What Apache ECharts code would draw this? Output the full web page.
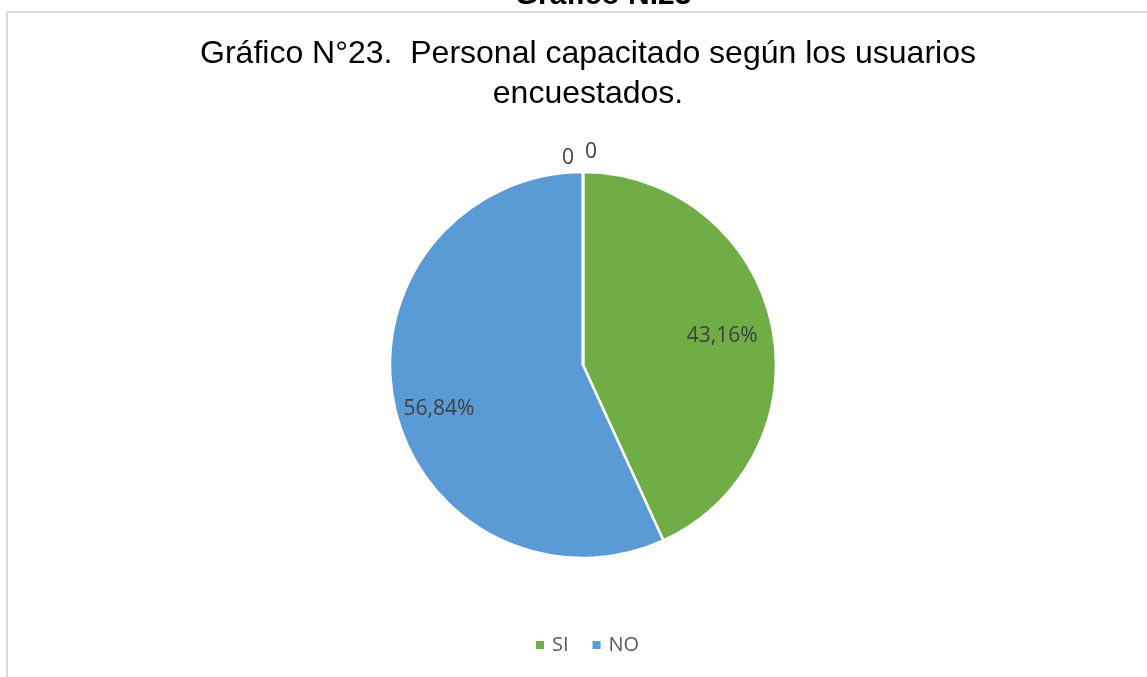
<!DOCTYPE html>
<html>
<head>
<meta charset="utf-8">
<script src="https://cdn.jsdelivr.net/npm/echarts@6/dist/echarts.min.js"></script>
<style>
html,body{margin:0;padding:0;background:#fff;overflow:hidden;}
#frame{position:absolute;left:6px;top:11px;width:1200px;height:700px;border:2px solid #d9d9d9;box-sizing:border-box;}
#chart{position:absolute;left:0;top:0;width:1147px;height:677px;}
</style>
</head>
<body>
<div id="frame"></div>
<div id="chart"></div>
<script>
const categories = ['SI', 'NO', 'Z1', 'Z2'];
const values = [43.16, 56.84, 0, 0];
const legendItems = ['SI', 'NO'];
const colors = ['#70AD47', '#5B9BD5', '#A5A5A5', '#FFC000'];
const headerText = 'Gráfico N.23';
const titleText = 'Gráfico N°23.  Personal capacitado según los usuarios\nencuestados.';

const fmt = v => v === 0 ? '0' : v.toFixed(2).replace('.', ',') + '%';
const labelPads = [[0, 10, 0, 0], [0, 0, 0, 0], [0, 30, 0, 0], [0, 0, 0, 16]];
const labelOffsets = [[0, 2], [0, 13], [0, 6], [0, 0]];

const chart = echarts.init(document.getElementById('chart'), null, {renderer: 'canvas'});
const pieData = categories.map((c, i) => ({
  name: c, value: values[i], itemStyle: {color: colors[i]}
}));
const labelData = categories.map((c, i) => ({
  name: c, value: values[i],
  label: {show: values[i] !== 0, padding: labelPads[i], offset: labelOffsets[i]}
}));
const zeroData = categories.map((c, i) => ({
  name: c, value: values[i],
  label: {show: values[i] === 0, padding: labelPads[i], offset: labelOffsets[i]}
}));
const labelStyle = {position: 'inside', formatter: p => fmt(p.value), fontFamily: 'Open Sans', fontSize: 21, color: '#404040'};
chart.setOption({
  animation: false,
  title: [
    {text: headerText, left: 598, top: -24, textAlign: 'center',
     textStyle: {fontFamily: 'Liberation Sans', fontWeight: 'bold', fontSize: 30, color: '#000'}},
    {text: titleText, left: 583, top: 29, textAlign: 'center',
     textStyle: {fontFamily: 'Liberation Sans', fontWeight: 'normal', fontSize: 32, lineHeight: 40, color: '#000'}}
  ],
  legend: {
    data: legendItems, left: 529, top: 630, icon: 'rect', itemWidth: 10, itemHeight: 10, itemGap: 22,
    textStyle: {fontFamily: 'Open Sans', fontSize: 20, color: '#595959', padding: [0, 0, 0, 2]}
  },
  series: [
    {
      type: 'pie', center: [583, 365], radius: [0, 193], startAngle: 90, clockwise: true,
      label: {show: false}, labelLine: {show: false}, silent: true,
      itemStyle: {borderColor: '#fff', borderWidth: 2.5},
      data: pieData
    },
    {
      type: 'pie', center: [583, 365], radius: [96, 193], startAngle: 90, clockwise: true,
      silent: true, legendHoverLink: false,
      itemStyle: {color: 'rgba(0,0,0,0)', borderWidth: 0},
      labelLine: {show: false},
      label: labelStyle,
      data: labelData
    },
    {
      type: 'pie', center: [583, 365], radius: [200, 220], startAngle: 90, clockwise: true,
      silent: true, legendHoverLink: false,
      itemStyle: {color: 'rgba(0,0,0,0)', borderWidth: 0},
      labelLine: {show: false},
      label: labelStyle,
      data: zeroData
    }
  ]
});
</script>
</body>
</html>
